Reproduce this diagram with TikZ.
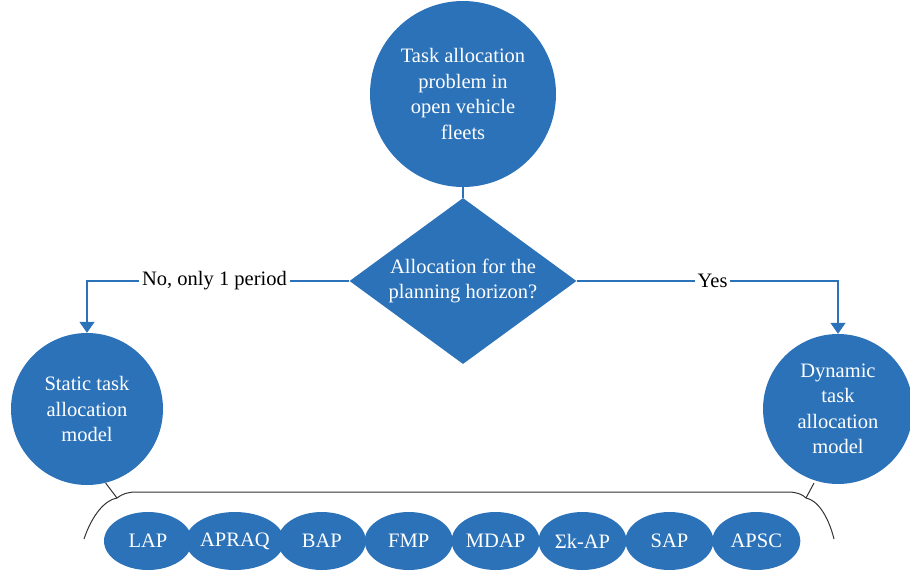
\documentclass[tikz,border=0pt]{standalone}
\usepackage{fontspec}
\setmainfont{Liberation Serif}
\usetikzlibrary{shapes.geometric,arrows.meta}
\definecolor{figblue}{HTML}{2C72B9}
\definecolor{bracegray}{HTML}{333333}
\begin{document}
\begin{tikzpicture}[x=1pt,y=-1pt,font=\fontsize{20.5}{25.5}\selectfont,
    circ/.style={circle,fill=figblue,text=white,align=center,inner sep=0pt},
    dec/.style={diamond,aspect=1.37,fill=figblue,text=white,align=center,inner sep=0pt,
                minimum width=227pt,minimum height=166pt},
    model/.style={ellipse,fill=figblue,text=white,inner sep=0pt,
                  minimum width=88pt,minimum height=58pt},
    conn/.style={figblue,line width=1.3pt,-{Triangle[width=15pt,length=11pt]}},
    lbl/.style={fill=white,text=black,inner sep=3pt}]
  \useasboundingbox (0,0) rectangle (910,573);
  \node[circ,minimum size=186pt] (prob) at (463,94)
       {Task allocation\\problem in\\open vehicle\\fleets};
  \node[dec] (horizon) at (463,281) {Allocation for the\\planning horizon?};
  \node[circ,minimum size=152pt] (static) at (87,409)
       {Static task\\allocation\\model};
  \node[circ,minimum size=150pt] (dynamic) at (838,409)
       {Dynamic\\task\\allocation\\model};
  \draw[figblue,line width=1.3pt] (prob) -- (horizon);
  \draw[conn] (horizon.west) -| node[lbl,pos=0.257] {No, only 1 period} (static.north);
  \draw[conn] (horizon.east) -| node[lbl,pos=0.26] {Yes} (dynamic.north);
  \draw[bracegray,line width=1pt] (84,539) .. controls (92,515) and (105,500) .. (117,498)
       .. controls (122,494) and (128,492) .. (136,492) -- (788,492)
       .. controls (796,492) and (802,494) .. (806,498)
       .. controls (817,500) and (828,515) .. (834,539);
  \draw[bracegray,line width=1pt] (105.6,483) -- (117,498);
  \draw[bracegray,line width=1pt] (814,483) -- (806,498);
  \foreach \t [count=\i from 0] in {LAP,APRAQ,BAP,FMP,MDAP,Σk-AP,SAP,APSC}
    \node[model] (m\i) at ({148+86.9*\i},541) {\t};
\end{tikzpicture}
\end{document}
